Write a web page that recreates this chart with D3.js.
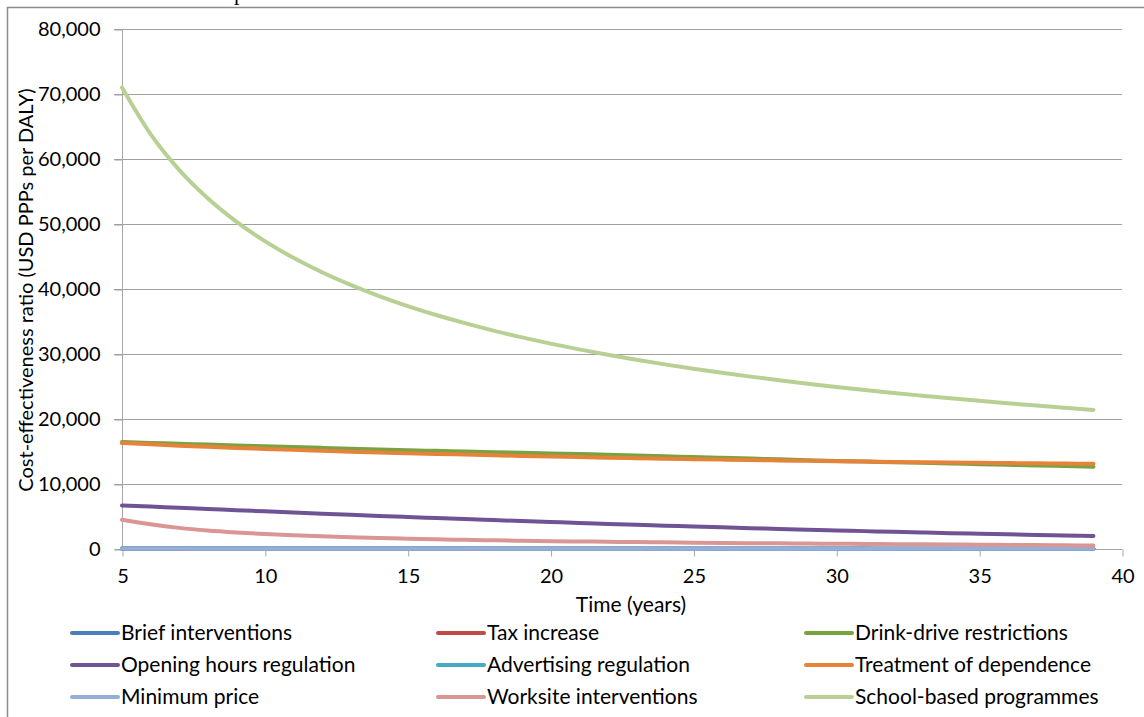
<!DOCTYPE html>
<html><head><meta charset="utf-8">
<script src="https://cdn.jsdelivr.net/npm/d3@7"></script>
<style>body{margin:0;background:#fff;overflow:hidden}svg{display:block}</style>
</head><body>
<svg id="c" width="1144" height="717"></svg>
<script>
const years = d3.range(5, 40);
const seriesNames = ["Brief interventions","Tax increase","Drink-drive restrictions","Opening hours regulation","Advertising regulation","Treatment of dependence","Minimum price","Worksite interventions","School-based programmes"];
const seriesColors = ["#4A7EBB","#BE4B48","#79A240","#6F5395","#46AAC4","#E6833A","#93AED8","#D99694","#B8D093"];
const yTicks = [0,10000,20000,30000,40000,50000,60000,70000,80000];
const xTicks = [5,10,15,20,25,30,35,40];

const briefInterventions = [90,88,86,84,82,80,78,77,76,75,74,73,72,71,70,69,68,67,66,65,64,63,62,61,60,59,58,57,56,55,54,53,52,51,50];
const taxIncrease = [60,59,58,57,56,55,54,53,52,51,50,49,48,47,46,45,44,43,42,41,40,39,38,37,36,35,34,33,32,31,30,29,28,27,26];
const drinkDrive = [16450,16320,16190,16060,15930,15800,15680,15560,15440,15320,15200,15100,15000,14900,14800,14700,14600,14500,14380,14260,14150,14030,13910,13790,13670,13550,13450,13350,13250,13150,13050,12950,12850,12750,12660];
const openingHours = [6700,6520,6340,6160,5970,5790,5610,5430,5260,5090,4920,4760,4600,4450,4300,4150,4000,3860,3720,3590,3460,3330,3210,3090,2970,2860,2750,2640,2540,2440,2350,2260,2170,2080,2000];
const advertising = [70,69,68,67,66,65,64,63,62,61,60,59,58,57,56,55,54,53,52,51,50,49,48,47,46,45,44,43,42,41,40,39,38,37,36];
const treatment = [16300,16100,15900,15720,15550,15400,15250,15110,14980,14860,14740,14630,14520,14420,14320,14230,14140,14050,13970,13890,13820,13750,13680,13620,13560,13500,13450,13400,13350,13300,13260,13220,13180,13140,13100];
const minimumPrice = [60,59,58,57,56,55,54,53,52,51,50,49,48,47,46,45,44,43,42,41,40,39,38,37,36,35,34,33,32,31,30,29,28,27,26];
const worksite = [4500,3800,3250,2850,2550,2300,2110,1950,1810,1690,1580,1490,1410,1340,1270,1210,1160,1110,1060,1020,980,940,900,870,840,810,780,750,720,690,660,630,600,570,540];
const schoolBased = [71000,63830,58330,53960,50370,47360,44800,42580,40640,38920,37380,36000,34740,33600,32560,31600,30710,29880,29120,28400,27740,27110,26520,25960,25430,24930,24460,24010,23590,23180,22790,22420,22060,21720,21390];

const allValues = [briefInterventions,taxIncrease,drinkDrive,openingHours,advertising,treatment,minimumPrice,worksite,schoolBased];

const svg = d3.select("#c");
const font = "Lato, 'Open Sans', sans-serif";

// page fragment above the frame
svg.append("text").attr("x",234).attr("y",0).attr("font-family","'Liberation Serif', serif").attr("font-size",22).attr("fill","#000").text("p");

// outer frame
svg.append("rect").attr("x",7.5).attr("y",7.5).attr("width",1200).attr("height",800)
  .attr("fill","#fff").attr("stroke","#8c8c8c").attr("stroke-width",1.5);

const x = d3.scaleLinear().domain([5,40]).range([122,1122]);
const y = d3.scaleLinear().domain([0,80000]).range([549,29]);

// gridlines
svg.append("g").selectAll("line").data(yTicks.slice(1)).join("line")
  .attr("x1",114).attr("x2",1122).attr("y1",d=>Math.round(y(d))+0.5).attr("y2",d=>Math.round(y(d))+0.5)
  .attr("stroke","#a0a0a0").attr("stroke-width",1);

// y axis
const yAxis = svg.append("g").attr("transform","translate(122.5,0.5)")
  .call(d3.axisLeft(y).tickValues(yTicks).tickSize(8).tickPadding(14).tickFormat(d3.format(",")));
yAxis.select(".domain").attr("stroke","#a6a6a6").attr("d","M0,"+y(80000)+"V"+y(0));
yAxis.selectAll(".tick line").attr("stroke","#a0a0a0");
yAxis.selectAll("text").attr("font-family",font).attr("font-size",20).attr("fill","#000");

// x axis
const xAxis = svg.append("g").attr("transform","translate(0.5,549.5)")
  .call(d3.axisBottom(x).tickValues(xTicks).tickSize(7).tickPadding(12).tickFormat(d3.format("d")));
xAxis.select(".domain").attr("stroke","#a6a6a6").attr("d","M114,0H1122");
xAxis.selectAll(".tick line").attr("stroke","#a6a6a6");
xAxis.selectAll("text").attr("font-family",font).attr("font-size",20).attr("fill","#000");

// lines
const line = d3.line().x((d,i)=>x(years[i])).y(d=>y(d)).curve(d3.curveMonotoneX);
svg.append("g").selectAll("path").data(allValues).join("path")
  .attr("d",d=>line(d)).attr("fill","none")
  .attr("stroke",(d,i)=>seriesColors[i]).attr("stroke-width",4)
  .attr("stroke-linecap","round").attr("stroke-linejoin","round");

// axis titles
svg.append("text").attr("x",631).attr("y",612).attr("text-anchor","middle")
  .attr("font-family",font).attr("font-size",21).attr("fill","#000").text("Time (years)");
svg.append("text").attr("transform","translate(33,290) rotate(-90)").attr("text-anchor","middle")
  .attr("font-family",font).attr("font-size",20).attr("fill","#000").text("Cost-effectiveness ratio (USD PPPs per DALY)");

// legend
const colX = [72,438,806];
const rowY = [633,665,697];
const lg = svg.append("g").selectAll("g").data(seriesNames).join("g")
  .attr("transform",(d,i)=>`translate(${colX[i%3]},${rowY[Math.floor(i/3)]})`);
lg.append("line").attr("x1",0).attr("x2",46).attr("y1",0).attr("y2",0)
  .attr("stroke",(d,i)=>seriesColors[i]).attr("stroke-width",4).attr("stroke-linecap","round");
lg.append("text").attr("x",49).attr("y",7).attr("font-family",font).attr("font-size",21).attr("fill","#000").text(d=>d);
</script>
</body></html>
